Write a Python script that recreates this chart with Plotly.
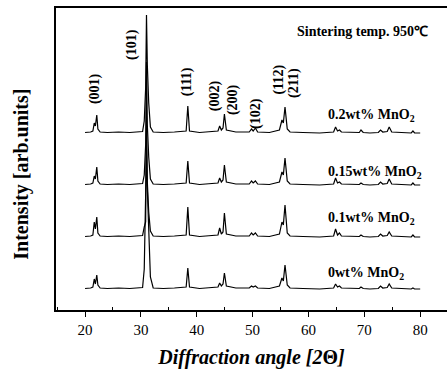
import plotly.graph_objects as go

# 2-theta sampling (degrees) shared by all patterns
two_theta = [20.0, 21.0, 21.4, 21.65, 21.85, 22.1, 22.3, 22.7, 24.0, 26.0, 28.0,
             30.3, 30.6, 30.85, 31.0, 31.15, 31.4, 31.7, 32.2, 34.0, 36.0,
             38.1, 38.4, 38.7, 40.5, 42.5, 43.8, 44.1, 44.4, 44.7, 44.95, 45.3,
             47.0, 49.4, 49.8, 50.1, 50.5, 50.9, 53.0, 54.8, 55.25, 55.5, 55.8,
             56.2, 56.7, 59.0, 62.0, 64.5, 64.85, 65.2, 65.55, 65.9, 67.5, 69.1,
             69.4, 69.8, 71.0, 72.5, 72.9, 73.3, 74.1, 74.45, 74.9, 76.5, 78.4,
             78.7, 79.0, 80.0]

# Intensities (arb. units) for each MnO2 content
counts_02 = [0.5, 1, 2, 10, 7, 18, 4, 1, 0.5, 1, 0.5,
             1.5, 12, 45, 118, 68, 30, 6, 1, 0.5, 1,
             2, 27, 2, 0.5, 1, 2, 7, 3, 5, 19, 3,
             1, 1, 4, 2, 5, 1, 0.5, 3, 13, 10, 26,
             4, 1, 0.5, 0, 1, 6, 2, 3, 1, 0.5, 0.5,
             3, 0.5, 0, 0.5, 3, 1, 1.5, 6, 1, 0.5, 0,
             2, 0, 0]
counts_015 = [0.5, 1, 2, 9, 6, 18, 4, 1, 0.5, 1, 0.5,
              1.5, 10, 40, 123, 60, 28, 6, 1, 0.5, 1,
              2, 24, 2, 0.5, 1, 2, 7, 3, 5, 20, 3,
              1, 1, 4, 2, 4, 1, 0.5, 3, 13, 10, 27,
              4, 1, 0.5, 0, 1, 7, 2, 3, 1, 0.5, 0.5,
              2, 0.5, 0, 0.5, 3, 1, 1.5, 6, 1, 0.5, 0,
              2, 0, 0]
counts_01 = [0.5, 1, 2, 15, 8, 20, 4, 1, 0.5, 1, 0.5,
             1.5, 10, 15, 127, 55, 25, 6, 1, 0.5, 1,
             2, 30, 2, 0.5, 1, 2, 9, 3, 5, 24, 3,
             1, 1, 4, 2, 4, 1, 0.5, 3, 15, 12, 32,
             4, 1, 0.5, 0, 1, 8, 2, 4, 1, 0.5, 0.5,
             2, 0.5, 0, 0.5, 3, 1, 1.5, 5, 1, 0.5, 0,
             2, 0, 0]
counts_0 = [0.5, 1, 2, 10, 5, 14, 4, 1, 0.5, 1, 0.5,
            1.5, 20, 95, 139, 100, 60, 12, 1, 0.5, 1,
            2, 21, 2, 0.5, 1, 2, 6, 3, 5, 16, 3,
            1, 1, 3, 2, 3, 1, 0.5, 3, 11, 8, 24,
            4, 1, 0.5, 0, 1, 5, 2, 3, 1, 0.5, 0.5,
            2, 0.5, 0, 0.5, 3, 1, 1.5, 5, 1, 0.5, 0,
            1, 0, 0]

series_labels = ["0wt% MnO<sub>2</sub>", "0.1wt% MnO<sub>2</sub>",
                 "0.15wt% MnO<sub>2</sub>", "0.2wt% MnO<sub>2</sub>"]
series_counts = [counts_0, counts_01, counts_015, counts_02]
series_offsets = [21, 73, 125, 177]
label_y = [37, 92, 138, 195]

# Miller indices of the reflections
hkl_labels = ["(001)", "(101)", "(111)", "(002)", "(200)", "(102)", "(112)", "(211)"]
hkl_x = [21.8, 28.4, 38.3, 43.3, 46.5, 50.6, 54.8, 57.4]
hkl_y = [221, 266, 228, 214, 210, 197, 231, 227]

FONT = "Liberation Serif"

fig = go.Figure()
for counts, off in zip(series_counts, series_offsets):
    fig.add_trace(go.Scatter(
        x=two_theta, y=[c + off for c in counts], mode="lines",
        line=dict(color="black", width=1.2), showlegend=False,
    ))

annotations = []
for txt, yy in zip(series_labels, label_y):
    annotations.append(dict(x=63.2, y=yy, xref="x", yref="y", text=f"<b>{txt}</b>",
                            showarrow=False, xanchor="left", yanchor="middle",
                            font=dict(family=FONT, size=14, color="black")))
for txt, xx, yy in zip(hkl_labels, hkl_x, hkl_y):
    annotations.append(dict(x=xx, y=yy, xref="x", yref="y", text=f"<b>{txt}</b>",
                            showarrow=False, textangle=-90,
                            font=dict(family=FONT, size=14, color="black")))
annotations.append(dict(x=57.6, y=279, xref="x", yref="y",
                        text="<b>Sintering temp. 950℃</b>", showarrow=False,
                        xanchor="left", yanchor="middle",
                        font=dict(family=FONT, size=14, color="black")))
annotations.append(dict(x=-0.088, y=0.45, xref="paper", yref="paper",
                        text="<b>Intensity [arb.units]</b>", showarrow=False,
                        textangle=-90, xanchor="center", yanchor="middle",
                        font=dict(family=FONT, size=20, color="black")))

fig.update_layout(
    width=447, height=372,
    margin=dict(l=56, r=0, t=8, b=62),
    paper_bgcolor="white", plot_bgcolor="white",
    font=dict(family=FONT, color="black"),
    annotations=annotations,
    xaxis=dict(
        range=[14.8, 84.8], showline=True, linecolor="black", linewidth=1.5,
        mirror=True, showgrid=False, zeroline=False,
        tick0=20, dtick=10, ticks="outside", ticklen=5, tickwidth=1.2,
        tickcolor="black", tickfont=dict(family=FONT, size=15),
        minor=dict(tick0=15, dtick=10, ticks="inside", ticklen=3,
                   tickwidth=1.2, tickcolor="black"),
        title=dict(text="<b><i>Diffraction angle [2</i>Θ<i>]</i></b>",
                   font=dict(family=FONT, size=20), standoff=13),
    ),
    yaxis=dict(
        range=[0, 302], showline=True, linecolor="black", linewidth=1.5,
        showgrid=False, zeroline=False, showticklabels=False, ticks="",
    ),
)

fig.write_html("out.html")
